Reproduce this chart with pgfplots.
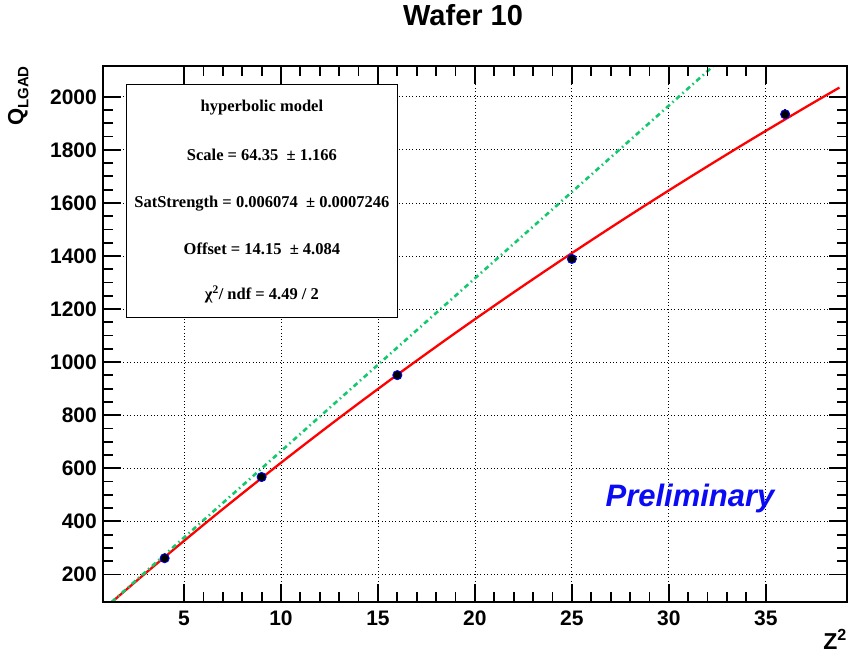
\documentclass[border=0pt]{standalone}
\usepackage{pgfplots}
\pgfplotsset{compat=1.18}
\usepackage{fontspec}
\setmainfont{Liberation Sans}
\newfontfamily\timesfont{Liberation Serif}
\definecolor{fitgreen}{RGB}{20,200,110}
\definecolor{prelblue}{RGB}{10,10,245}
\begin{document}
\begin{tikzpicture}
\begin{axis}[
  scale only axis, width=744pt, height=536pt,
  xmin=0.82, xmax=39.19, ymin=96, ymax=2116,
  xtick={5,10,...,35}, ytick={200,400,...,2000},
  minor x tick num=4, minor y tick num=3,
  major tick length=18pt, minor tick length=10pt,
  every tick/.style={draw=black, line width=1.8pt},
  axis line style={line width=2pt},
  grid=major,
  major grid style={black, line width=0.8pt, dash pattern=on 0.8pt off 2.6pt},
  /pgf/number format/assume math mode=true,
  /pgf/number format/1000 sep={},
  ticklabel style={font=\fontsize{21}{21}\selectfont\bfseries, inner sep=0pt},
  xticklabel style={yshift=-9pt},
  yticklabel style={xshift=-6pt},
  title={Wafer 10},
  title style={at={(axis description cs:0.484,1.064)}, anchor=base, font=\fontsize{29}{29}\selectfont\bfseries, inner sep=0pt},
  xlabel={Z\textsuperscript{2}},
  xlabel style={at={(axis description cs:1.0,-0.088)}, anchor=base east, font=\fontsize{23}{23}\selectfont\bfseries, inner sep=0pt},
  ylabel={Q\raisebox{-5pt}{\fontsize{15}{15}\selectfont LGAD}},
  ylabel style={at={(axis description cs:-0.128,1.0)}, anchor=north east, font=\fontsize{22}{22}\selectfont\bfseries, inner sep=0pt},
]
\addplot[only marks, mark=*, mark size=4.6pt, mark options={fill=black, draw=blue, line width=0.8pt},
  error bars/.cd, y dir=both, y explicit, error bar style={blue, line width=1.5pt}, error mark=none]
  table[x index=0, y index=1, y error index=2]{
  4  261  9
  9  567  10
  16 951  12
  25 1389 14
  36 1934 20
};
\addplot[red, line width=2.3pt, smooth] coordinates {
 (1.3,97.2) (3,203.8) (5,326.4) (7,446.2) (10,620.8) (13,789.5) (16,952.6)
 (19,1110.3) (22,1263.0) (25,1410.8) (28,1554.1) (31,1692.9) (34,1827.6)
 (37,1958.2) (38.8,2034.7)
};
\addplot[fitgreen, line width=2.6pt, dash pattern=on 5pt off 3.5pt on 1.5pt off 3.5pt] coordinates {
 (1.27,96) (33,2162)
};
\draw[fill=white, line width=0.8pt] (axis description cs:0.0319,0.5312) rectangle (axis description cs:0.3961,0.9664);
\node[font=\timesfont\bfseries\fontsize{16.5}{16.5}\selectfont, anchor=base] at (axis description cs:0.2136,0.9147) {hyperbolic model};
\node[font=\timesfont\bfseries\fontsize{16.5}{16.5}\selectfont, anchor=base] at (axis description cs:0.2136,0.8246) {Scale = 64.35 \ ± 1.166};
\node[font=\timesfont\bfseries\fontsize{16.5}{16.5}\selectfont, anchor=base] at (axis description cs:0.2136,0.7364) {SatStrength = 0.006074 \ ± 0.0007246};
\node[font=\timesfont\bfseries\fontsize{16.5}{16.5}\selectfont, anchor=base] at (axis description cs:0.2136,0.6487) {Offset = 14.15 \ ± 4.084};
\node[font=\timesfont\bfseries\fontsize{16.5}{16.5}\selectfont, anchor=base] at (axis description cs:0.2136,0.5647) {χ\textsuperscript{2}/ ndf = 4.49 / 2};
\node[font=\bfseries\itshape\fontsize{31}{31}\selectfont, text=prelblue, anchor=base] at (axis description cs:0.789,0.1778) {Preliminary};
\end{axis}
\begin{axis}[
  scale only axis, width=744pt, height=536pt,
  xmin=0.82, xmax=39.19, ymin=96, ymax=2116,
  xtick={5,10,...,35}, ytick={200,400,...,2000},
  minor x tick num=4, minor y tick num=3,
  major tick length=18pt, minor tick length=10pt,
  every tick/.style={draw=black, line width=1.8pt},
  axis line style={line width=2pt},
  xticklabels={}, yticklabels={},
]
\addplot[draw=none, forget plot] coordinates {(4,261)};
\end{axis}
\pgfresetboundingbox
\useasboundingbox (-103pt,-51pt) rectangle (745pt,602pt);
\end{tikzpicture}
\end{document}
